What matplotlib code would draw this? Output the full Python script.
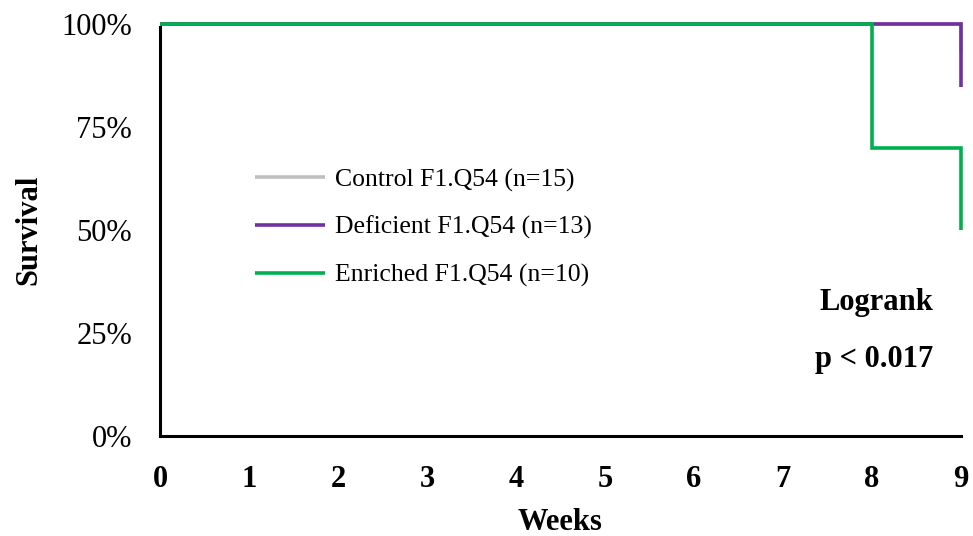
import numpy as np
import matplotlib.pyplot as plt

plt.rcParams['font.family'] = ['Liberation Serif', 'DejaVu Serif']

# Kaplan-Meier style step curves (weeks vs fraction surviving)
weeks = [0, 1, 2, 3, 4, 5, 6, 7, 8, 9]
control_t = [0, 9, 9]
control_s = [1.0, 1.0, 14 / 15]
deficient_t = [0, 9, 9]
deficient_s = [1.0, 1.0, 11 / 13]
enriched_t = [0, 8, 8, 9, 9]
enriched_s = [1.0, 1.0, 0.7, 0.7, 0.5]

labels = ['Control F1.Q54 (n=15)', 'Deficient F1.Q54 (n=13)', 'Enriched F1.Q54 (n=10)']
colors = ['#bfbfbf', '#7030a0', '#00b050']

fig = plt.figure(figsize=(9.73, 5.36), dpi=100)
fig.set_facecolor('w')
ax = fig.add_axes([0.1644, 0.1866, 0.8233, 0.7684])

kw = dict(lw=2.6, solid_capstyle='butt', solid_joinstyle='miter', clip_on=False)
ax.plot(control_t, control_s, color=colors[0], label=labels[0], **kw)
ax.plot(deficient_t, deficient_s, color=colors[1], label=labels[1], **kw)
ax.plot(enriched_t, enriched_s, color=colors[2], label=labels[2], **kw)

ax.set_xlim(0, 9)
ax.set_ylim(0, 1.0)
ax.set_xticks(weeks)
ax.set_xticklabels([str(w) for w in weeks], fontweight='bold', fontsize=22)
ax.set_yticks([0, 0.25, 0.5, 0.75, 1.0])
ax.set_yticklabels(['0%', '25%', '50%', '75%', '100%'], fontsize=22)
ax.tick_params(axis='y', length=0, pad=20)
ax.tick_params(axis='x', length=0, pad=21)

for s in ['top', 'right']:
    ax.spines[s].set_visible(False)
for s in ['left', 'bottom']:
    ax.spines[s].set_linewidth(2.2)
    ax.spines[s].set_color('black')
ax.spines['left'].set_bounds(0, 0.993)

ax.set_xlabel('Weeks', fontweight='bold', fontsize=22)
ax.set_ylabel('Survival', fontweight='bold', fontsize=22)
ax.xaxis.set_label_coords(0.5, -0.175)
ax.yaxis.set_label_coords(-0.145, 0.5)

ax.legend(loc='upper left', bbox_to_anchor=(0.106, 0.675), frameon=False,
          fontsize=18.5, handlelength=2.7, handletextpad=0.4, labelspacing=0.95,
          borderaxespad=0)

ax.text(0.965, 0.325, 'Logrank', transform=ax.transAxes, fontsize=22,
        fontweight='bold', ha='right', va='center')
ax.text(0.965, 0.185, 'p < 0.017', transform=ax.transAxes, fontsize=22,
        fontweight='bold', ha='right', va='center')

fig.savefig('out.png', dpi=100)
